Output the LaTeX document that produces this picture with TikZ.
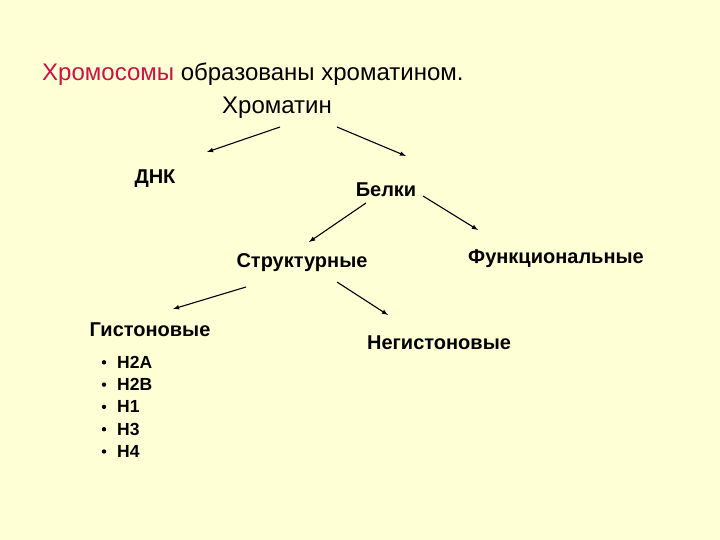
\documentclass[tikz,border=0pt]{standalone}
\usepackage{fontspec}
\setmainfont{Liberation Sans}
\usepackage{xcolor}
\usetikzlibrary{arrows}
\definecolor{slidebg}{HTML}{FFFFD5}
\definecolor{titlered}{HTML}{CC1144}

\begin{document}
\begin{tikzpicture}[x=1pt, y=-1pt,
    label/.style={font=\fontsize{20}{22}\selectfont\bfseries, inner sep=0pt},
    histone/.style={font=\fontsize{17.5}{19}\selectfont\bfseries, anchor=west, inner sep=0pt},
    link/.style={line width=1.1pt, arrows={-latex}}]

    % Background
    \fill[slidebg] (0,0) rectangle (720,540);
    \useasboundingbox (0,0) rectangle (720,540);

    % Title
    \node[anchor=base west, inner sep=0pt, font=\fontsize{24}{26}\selectfont] (title) at (42,81)
        {\textcolor{titlered}{Хромосомы} образованы хроматином.};
    \node[anchor=base, inner sep=0pt, font=\fontsize{24}{26}\selectfont] (chromatin) at (277,114) {Хроматин};

    % Labels
    \node[label] (dna) at (155,179) {ДНК};
    \node[label] (proteins) at (386,190) {Белки};
    \node[label] (struct) at (302,263) {Структурные};
    \node[label] (func) at (556,259) {Функциональные};
    \node[label] (hist) at (150,330) {Гистоновые};
    \node[label] (nonhist) at (439,343) {Негистоновые};

    % Histone list
    \foreach \name [count=\i] in {H2A,H2B,H1,H3,H4} {
        \node[histone] (h\i) at (117,340+22.3*\i) {\name};
        \fill (104,340+22.3*\i) circle (2.2pt);
    }

    % Arrow ends
    \coordinate (a1) at (280,127);
    \coordinate (b1) at (207,152);
    \coordinate (a2) at (337,127);
    \coordinate (b2) at (406,156);
    \coordinate (a3) at (366,203);
    \coordinate (b3) at (309,242);
    \coordinate (a4) at (423,196);
    \coordinate (b4) at (478,230);
    \coordinate (a5) at (246,287);
    \coordinate (b5) at (173,309);
    \coordinate (a6) at (337,282);
    \coordinate (b6) at (388,315);

    % Draw the arrows
    \draw[link] (a1) -- (b1);
    \draw[link] (a2) -- (b2);
    \draw[link] (a3) -- (b3);
    \draw[link] (a4) -- (b4);
    \draw[link] (a5) -- (b5);
    \draw[link] (a6) -- (b6);
\end{tikzpicture}
\end{document}
